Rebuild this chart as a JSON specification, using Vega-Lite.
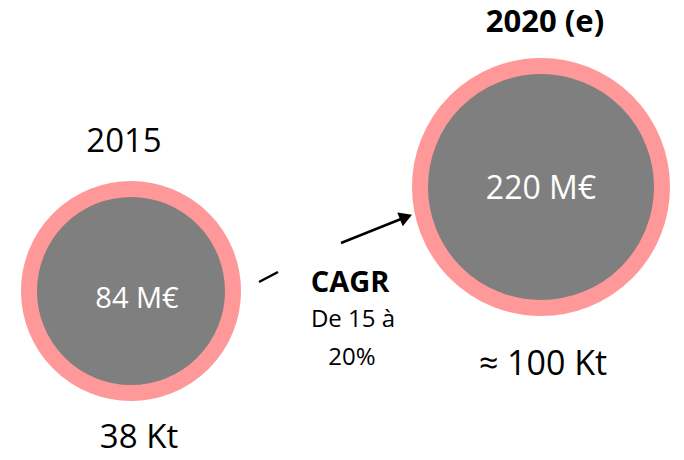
{
  "$schema": "https://vega.github.io/schema/vega-lite/v6.json",
  "width": 684,
  "height": 460,
  "padding": 0,
  "autosize": {"type": "none"},
  "background": "white",
  "config": {"view": {"stroke": null}},
  "datasets": {
    "circles": [
      {"year": "2015", "value": "84 M€", "volume": "38 Kt", "x": 131, "y": 291},
      {"year": "2020 (e)", "value": "220 M€", "volume": "≈ 100 Kt", "x": 541, "y": 187}
    ],
    "segments": [
      {"x": 259, "y": 282, "x2": 278, "y2": 272},
      {"x": 341, "y": 243, "x2": 406, "y2": 217}
    ]
  },
  "encoding": {
    "x": {"type": "quantitative", "scale": {"domain": [0, 684]}, "axis": null},
    "y": {"type": "quantitative", "scale": {"domain": [0, 460], "reverse": true}, "axis": null}
  },
  "layer": [
    {
      "data": {"name": "circles"},
      "mark": {"type": "point", "shape": "circle", "filled": true, "fill": "#7F7F7F", "stroke": "#FF9999", "strokeWidth": 16, "opacity": 1},
      "encoding": {
        "x": {"field": "x", "type": "quantitative"},
        "y": {"field": "y", "type": "quantitative"},
        "size": {"field": "year", "type": "nominal", "scale": {"domain": ["2015", "2020 (e)"], "range": [41616, 58564]}, "legend": null}
      }
    },
    {
      "data": {"name": "segments"},
      "mark": {"type": "rule", "color": "black", "strokeWidth": 2.5},
      "encoding": {
        "x": {"field": "x", "type": "quantitative"},
        "y": {"field": "y", "type": "quantitative"},
        "x2": {"field": "x2"},
        "y2": {"field": "y2"}
      }
    },
    {
      "data": {"values": [{"x": 406, "y": 217}]},
      "mark": {"type": "point", "shape": "triangle-up", "filled": true, "color": "black", "opacity": 1, "size": 220, "angle": 68.5},
      "encoding": {
        "x": {"field": "x", "type": "quantitative"},
        "y": {"field": "y", "type": "quantitative"}
      }
    },
    {
      "data": {"values": [{"text": "84 M€", "x": 137, "y": 308}]},
      "mark": {"type": "text", "font": "Open Sans", "fontSize": 29, "color": "white", "align": "center", "baseline": "alphabetic"},
      "encoding": {"x": {"field": "x", "type": "quantitative"}, "y": {"field": "y", "type": "quantitative"}, "text": {"field": "text"}}
    },
    {
      "data": {"values": [{"text": "220 M€", "x": 541, "y": 199}]},
      "mark": {"type": "text", "font": "Open Sans", "fontSize": 32, "color": "white", "align": "center", "baseline": "alphabetic"},
      "encoding": {"x": {"field": "x", "type": "quantitative"}, "y": {"field": "y", "type": "quantitative"}, "text": {"field": "text"}}
    },
    {
      "data": {"values": [
        {"text": "2015", "x": 124, "y": 152},
        {"text": "38 Kt", "x": 139, "y": 448}
      ]},
      "mark": {"type": "text", "font": "Open Sans", "fontSize": 33, "color": "black", "align": "center", "baseline": "alphabetic"},
      "encoding": {"x": {"field": "x", "type": "quantitative"}, "y": {"field": "y", "type": "quantitative"}, "text": {"field": "text"}}
    },
    {
      "data": {"values": [
        {"text": "≈ 100 Kt", "x": 543, "y": 375}
      ]},
      "mark": {"type": "text", "font": "Open Sans", "fontSize": 34, "color": "black", "align": "center", "baseline": "alphabetic"},
      "encoding": {"x": {"field": "x", "type": "quantitative"}, "y": {"field": "y", "type": "quantitative"}, "text": {"field": "text"}}
    },
    {
      "data": {"values": [{"text": "2020 (e)", "x": 545, "y": 32}]},
      "mark": {"type": "text", "font": "Open Sans", "fontSize": 31, "fontWeight": "bold", "color": "black", "align": "center", "baseline": "alphabetic"},
      "encoding": {"x": {"field": "x", "type": "quantitative"}, "y": {"field": "y", "type": "quantitative"}, "text": {"field": "text"}}
    },
    {
      "data": {"values": [{"text": "CAGR", "x": 350, "y": 292}]},
      "mark": {"type": "text", "font": "Open Sans", "fontSize": 29, "fontWeight": "bold", "color": "black", "align": "center", "baseline": "alphabetic"},
      "encoding": {"x": {"field": "x", "type": "quantitative"}, "y": {"field": "y", "type": "quantitative"}, "text": {"field": "text"}}
    },
    {
      "data": {"values": [
        {"text": "De 15 à", "x": 353, "y": 327},
        {"text": "20%", "x": 352, "y": 365}
      ]},
      "mark": {"type": "text", "font": "Open Sans", "fontSize": 24, "color": "black", "align": "center", "baseline": "alphabetic"},
      "encoding": {"x": {"field": "x", "type": "quantitative"}, "y": {"field": "y", "type": "quantitative"}, "text": {"field": "text"}}
    }
  ]
}
